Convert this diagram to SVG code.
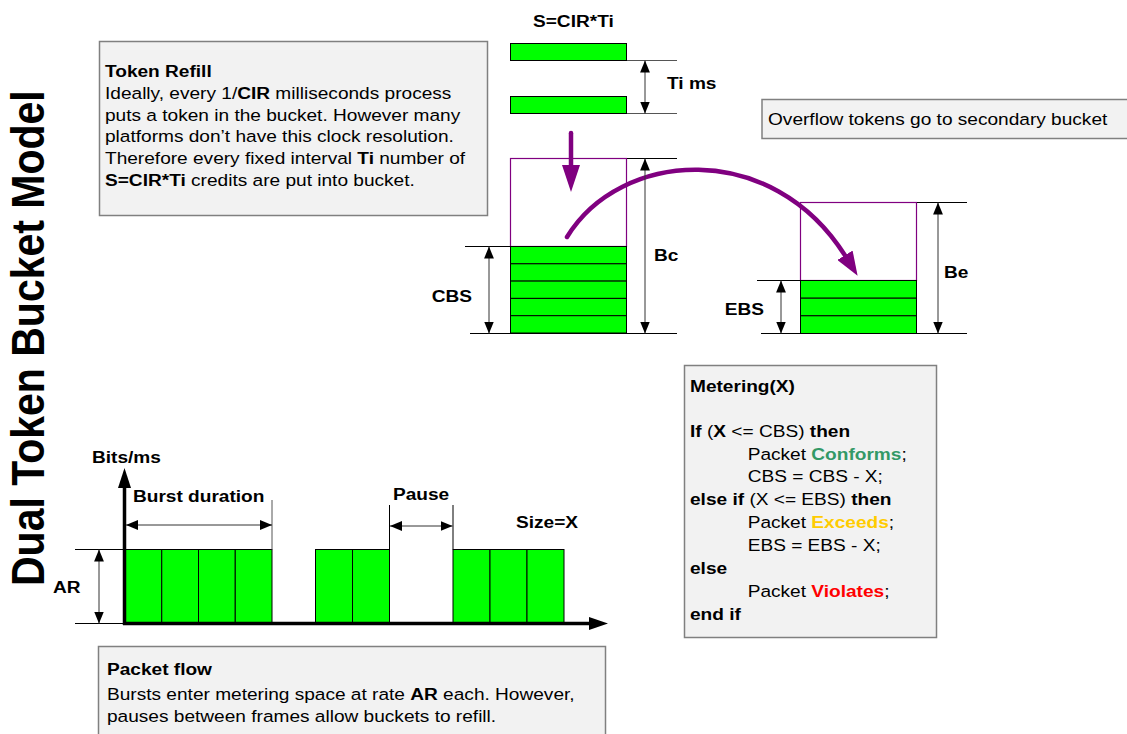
<svg xmlns="http://www.w3.org/2000/svg" width="1127" height="734" viewBox="0 0 1127 734">
  <defs>
    <style>
      .txt{font-family:"Liberation Sans",Arial,Helvetica,sans-serif;font-size:17.2px;fill:#000}
      .b{font-weight:bold}
      .title{font-size:41px;font-weight:bold}
      .note{fill:#f2f2f2;stroke:#808080;stroke-width:1.5}
      .tok{fill:#00ff00;stroke:#000;stroke-width:1}
      .bucket{fill:none;stroke:#800080;stroke-width:1.2}
      .ext{stroke:#000;stroke-width:1;fill:none}
      .extg{stroke:#555;stroke-width:1;fill:none}
      .dim{stroke:#333;stroke-width:1;fill:none;marker-start:url(#dimHead);marker-end:url(#dimHead)}
      .flow{stroke:#800080;stroke-width:4.5;fill:none;stroke-linecap:round}
      .axis{stroke:#000;stroke-width:3.5;fill:none}
      .conf{fill:#339966;font-weight:bold}
      .exc{fill:#ffcc00;font-weight:bold}
      .vio{fill:#ff0000;font-weight:bold}
    </style>
    <marker id="dimHead" markerUnits="userSpaceOnUse" markerWidth="12" markerHeight="10" refX="11" refY="4.5" orient="auto-start-reverse" viewBox="0 0 11 9">
      <path d="M0,0 L11,4.5 L0,9 z" fill="#000"/>
    </marker>
    <marker id="flowHead" markerUnits="userSpaceOnUse" markerWidth="24" markerHeight="18" refX="2" refY="9" orient="auto" viewBox="0 0 24 18">
      <path d="M0,0 L24,9 L0,18 z" fill="#800080"/>
    </marker>
  </defs>

  <rect width="1127" height="734" fill="#fff"/>

  <!-- vertical title -->
  <g id="title">
    <text class="txt title" transform="translate(44,586) scale(1.14,1) rotate(-90)" x="0" y="0">Dual Token Bucket Model</text>
  </g>

  <!-- explanatory notes -->
  <g id="token-refill">
    <rect class="note" x="99.5" y="41.5" width="388" height="174"/>
    <text class="txt" transform="translate(105,0) scale(1.11,1)">
      <tspan x="0" y="77" class="b">Token Refill</tspan>
      <tspan x="0" y="99">Ideally, every 1/<tspan class="b">CIR</tspan> milliseconds process</tspan>
      <tspan x="0" y="121">puts a token in the bucket. However many</tspan>
      <tspan x="0" y="142.5">platforms don’t have this clock resolution.</tspan>
      <tspan x="0" y="164.5">Therefore every fixed interval <tspan class="b">Ti</tspan> number of</tspan>
      <tspan x="0" y="186.5"><tspan class="b">S=CIR*Ti</tspan> credits are put into bucket.</tspan>
    </text>
  </g>

  <g id="overflow-note">
    <rect class="note" x="762" y="99.5" width="380" height="39"/>
    <text class="txt" transform="translate(768,125) scale(1.11,1)" x="0" y="0">Overflow tokens go to secondary bucket</text>
  </g>

  <g id="metering">
    <rect class="note" x="684.5" y="365.5" width="252" height="272"/>
    <text class="txt" transform="translate(690,0) scale(1.11,1)">
      <tspan x="0" y="392" class="b">Metering(X)</tspan>
      <tspan x="0" y="437.5"><tspan class="b">If</tspan> (<tspan class="b">X</tspan> &lt;= CBS) <tspan class="b">then</tspan></tspan>
      <tspan x="52" y="460">Packet <tspan class="conf">Conforms</tspan>;</tspan>
      <tspan x="52" y="482.5">CBS = CBS - X;</tspan>
      <tspan x="0" y="505.5"><tspan class="b">else if</tspan> (X &lt;= EBS) <tspan class="b">then</tspan></tspan>
      <tspan x="52" y="528">Packet <tspan class="exc">Exceeds</tspan>;</tspan>
      <tspan x="52" y="551.5">EBS = EBS - X;</tspan>
      <tspan x="0" y="574.5" class="b">else</tspan>
      <tspan x="52" y="597.5">Packet <tspan class="vio">Violates</tspan>;</tspan>
      <tspan x="0" y="620" class="b">end if</tspan>
    </text>
  </g>

  <g id="packet-flow">
    <rect class="note" x="98.5" y="646.5" width="507" height="100"/>
    <text class="txt" transform="translate(107,0) scale(1.11,1)">
      <tspan x="0" y="675" class="b">Packet flow</tspan>
      <tspan x="0" y="700">Bursts enter metering space at rate <tspan class="b">AR</tspan> each. However,</tspan>
      <tspan x="0" y="722">pauses between frames allow buckets to refill.</tspan>
    </text>
  </g>

  <!-- incoming token credits -->
  <g id="refill-credits">
    <rect class="tok" x="510.5" y="43.5" width="116" height="17"/>
    <rect class="tok" x="510.5" y="96.5" width="116" height="17"/>
    <line class="extg" x1="627" y1="60.5" x2="677" y2="60.5"/>
    <line class="extg" x1="627" y1="113.5" x2="677" y2="113.5"/>
    <text class="txt b" transform="translate(533,27) scale(1.11,1)" x="0" y="0">S=CIR*Ti</text>
    <text class="txt b" transform="translate(667,89) scale(1.11,1)" x="0" y="0">Ti ms</text>
  </g>

  <!-- committed bucket -->
  <g id="committed-bucket">
    <rect class="bucket" x="510.5" y="158.5" width="116" height="88"/>
    <rect class="tok" x="510.5" y="246.5" width="116" height="17.3"/>
    <rect class="tok" x="510.5" y="263.8" width="116" height="17.3"/>
    <rect class="tok" x="510.5" y="281.1" width="116" height="17.3"/>
    <rect class="tok" x="510.5" y="298.4" width="116" height="17.3"/>
    <rect class="tok" x="510.5" y="315.7" width="116" height="17.3"/>
    <line class="ext" x1="627" y1="158.5" x2="677" y2="158.5"/>
    <line class="ext" x1="465" y1="246.5" x2="510" y2="246.5"/>
    <line class="ext" x1="470" y1="333.5" x2="677" y2="333.5"/>
    <text class="txt b" transform="translate(654,261) scale(1.11,1)" x="0" y="0">Bc</text>
    <text class="txt b" transform="translate(472,302) scale(1.11,1)" x="0" y="0" text-anchor="end">CBS</text>
  </g>

  <!-- excess bucket -->
  <g id="excess-bucket">
    <rect class="bucket" x="800.5" y="202.5" width="116" height="78"/>
    <rect class="tok" x="800.5" y="280.5" width="116" height="17.7"/>
    <rect class="tok" x="800.5" y="298.2" width="116" height="17.6"/>
    <rect class="tok" x="800.5" y="315.8" width="116" height="17.7"/>
    <line class="ext" x1="917" y1="202.5" x2="967" y2="202.5"/>
    <line class="ext" x1="757" y1="280.5" x2="800" y2="280.5"/>
    <line class="ext" x1="761" y1="333.5" x2="967" y2="333.5"/>
    <text class="txt b" transform="translate(944,278) scale(1.11,1)" x="0" y="0">Be</text>
    <text class="txt b" transform="translate(764,315) scale(1.11,1)" x="0" y="0" text-anchor="end">EBS</text>
  </g>

  <!-- packet arrival chart -->
  <g id="burst-chart">
    <rect class="tok" x="125" y="549.5" width="36.75" height="74"/>
    <rect class="tok" x="161.75" y="549.5" width="36.75" height="74"/>
    <rect class="tok" x="198.5" y="549.5" width="36.75" height="74"/>
    <rect class="tok" x="235.25" y="549.5" width="36.75" height="74"/>
    <rect class="tok" x="315.5" y="549.5" width="37" height="74"/>
    <rect class="tok" x="352.5" y="549.5" width="37" height="74"/>
    <rect class="tok" x="453" y="549.5" width="37" height="74"/>
    <rect class="tok" x="490" y="549.5" width="37" height="74"/>
    <rect class="tok" x="527" y="549.5" width="37" height="74"/>
    <line class="ext" x1="75" y1="549.5" x2="125" y2="549.5"/>
    <line class="ext" x1="75" y1="623.5" x2="125" y2="623.5"/>
    <line class="extg" x1="272" y1="500" x2="272" y2="549.5"/>
    <line class="ext" x1="389.5" y1="505" x2="389.5" y2="549.5"/>
    <line class="ext" x1="453" y1="505" x2="453" y2="549.5"/>
    <line class="axis" x1="124.5" y1="625" x2="124.5" y2="485"/>
    <polygon points="118,488 131,488 124.5,468" fill="#000"/>
    <line class="axis" x1="123" y1="623.5" x2="592" y2="623.5"/>
    <polygon points="589,617 589,630 608,623.5" fill="#000"/>
    <text class="txt b" transform="translate(92,463) scale(1.11,1)" x="0" y="0">Bits/ms</text>
    <text class="txt b" transform="translate(133,502) scale(1.11,1)" x="0" y="0">Burst duration</text>
    <text class="txt b" transform="translate(393,500) scale(1.11,1)" x="0" y="0">Pause</text>
    <text class="txt b" transform="translate(516,528) scale(1.11,1)" x="0" y="0">Size=X</text>
    <text class="txt b" transform="translate(53,593) scale(1.11,1)" x="0" y="0">AR</text>
  </g>

  <!-- connectors: token flow and dimension arrows -->
  <g id="connectors">
    <line class="flow" x1="571" y1="133" x2="571" y2="167" style="stroke-linecap:butt"/>
    <circle cx="571" cy="133" r="2.25" fill="#800080"/>
    <polygon points="562,165 580,165 571,192" fill="#800080"/>
    <path class="flow" d="M567,237 C620,150 772,138 846,257" marker-end="url(#flowHead)"/>

    <line class="dim" x1="645" y1="60.5" x2="645" y2="113.5"/>
    <line class="dim" x1="645" y1="158.5" x2="645" y2="333.5"/>
    <line class="dim" x1="489" y1="246.5" x2="489" y2="333.5"/>
    <line class="dim" x1="938" y1="202.5" x2="938" y2="333.5"/>
    <line class="dim" x1="781" y1="280.5" x2="781" y2="333.5"/>
    <line class="dim" x1="99" y1="549.5" x2="99" y2="623.5"/>
    <line class="dim" x1="126" y1="525" x2="272" y2="525"/>
    <line class="dim" x1="390" y1="526" x2="452.5" y2="526"/>
  </g>
</svg>
